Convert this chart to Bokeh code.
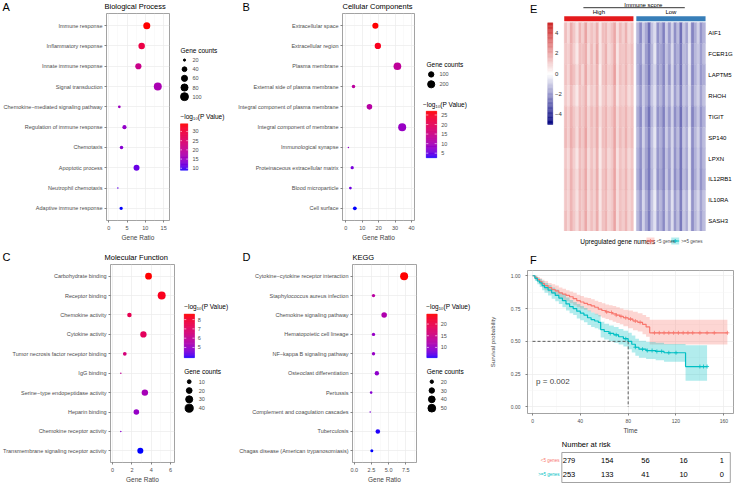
import numpy as np
from bokeh.plotting import figure
from bokeh.models import Range1d, FixedTicker, Label, NumeralTickFormatter
from bokeh.layouts import row, column
from bokeh.embed import file_html
from bokeh.resources import INLINE
from bokeh.core.properties import value

FONT = "Liberation Sans"
TICK_GREY = "#4D4D4D"
MINUS = "\u2212"

# ------------------------------------------------------------------ data
bp_terms = ["Immune response", "Inflammatory response", "Innate immune response",
            "Signal transduction", "Chemokine" + MINUS + "mediated signaling pathway",
            "Regulation of immune response", "Chemotaxis", "Apoptotic process",
            "Neutrophil chemotaxis", "Adaptive immune response"]
bp_ratio = [10.4, 9.0, 8.1, 13.4, 2.9, 4.3, 3.5, 7.6, 2.5, 3.4]
bp_count = [79, 68, 62, 102, 22, 33, 27, 58, 19, 26]
bp_logp = [34.2, 29.0, 21.5, 17.0, 15.5, 14.5, 13.5, 11.5, 11.0, 8.9]
bp_size_breaks = [20, 40, 60, 80, 100]
bp_color_breaks = [10, 15, 20, 25, 30]

cc_terms = ["Extracellular space", "Extracellular region", "Plasma membrane",
            "External side of plasma membrane", "Integral component of plasma membrane",
            "Integral component of membrane", "Immunological synapse",
            "Proteinaceous extracellular matrix", "Blood microparticle", "Cell surface"]
cc_ratio = [18.0, 19.5, 31.4, 4.7, 14.4, 34.3, 1.6, 3.9, 2.8, 5.5]
cc_count = [137, 148, 239, 36, 110, 261, 12, 30, 21, 42]
cc_logp = [27.0, 25.5, 13.0, 12.5, 12.0, 8.5, 8.0, 6.0, 5.5, 2.6]
cc_size_breaks = [100, 200]
cc_color_breaks = [5, 10, 15, 20, 25]

mf_terms = ["Carbohydrate binding", "Receptor binding", "Chemokine activity",
            "Cytokine activity", "Tumor necrosis factor receptor binding", "IgG binding",
            "Serine" + MINUS + "type endopeptidase activity", "Heparin binding",
            "Chemokine receptor activity", "Transmembrane signaling receptor activity"]
mf_ratio = [3.72, 5.08, 1.74, 3.19, 1.26, 0.85, 3.34, 2.46, 0.85, 2.87]
mf_count = [28, 39, 13, 24, 10, 6, 25, 19, 6, 22]
mf_logp = [8.6, 8.3, 7.4, 7.2, 6.6, 6.0, 5.3, 5.0, 4.8, 3.9]
mf_size_breaks = [10, 20, 30, 40]
mf_color_breaks = [5, 6, 7, 8]

kegg_terms = ["Cytokine" + MINUS + "cytokine receptor interaction", "Staphylococcus aureus infection",
              "Chemokine signaling pathway", "Hematopoietic cell lineage",
              "NF" + MINUS + "kappa B signaling pathway", "Osteoclast differentiation", "Pertussis",
              "Complement and coagulation cascades", "Tuberculosis",
              "Chagas disease (American trypanosomiasis)"]
kegg_ratio = [7.25, 2.8, 4.35, 2.8, 2.8, 3.29, 2.46, 2.32, 3.43, 2.56]
kegg_count = [53, 20, 31, 20, 20, 24, 18, 17, 25, 19]
kegg_logp = [24.3, 13.0, 12.0, 10.0, 10.0, 9.5, 9.0, 8.5, 5.8, 5.6]
kegg_size_breaks = [20, 30, 40, 50]
kegg_color_breaks = [10, 15, 20]

genes = ["AIF1", "FCER1G", "LAPTM5", "RHOH", "TIGIT", "SP140", "LPXN", "IL12RB1", "IL10RA", "SASH3"]
heat_high = [
    [1.5, 0.9, 1.9, 1.3, 0.7, 1.7, 1.1, 2.1, 1.0, 1.4, 1.1, 1.8, 0.6, 1.5, 1.6, 1.0, 1.4, 2.0, 0.8, 1.6, 1.1, 1.8, 0.9, 1.3],
    [1.3, 1.1, 1.7, 1.1, 0.5, 1.5, 1.4, 1.9, 0.8, 1.6, 1.0, 2.0, 0.6, 1.3, 1.8, 0.9, 1.2, 2.0, 0.6, 1.4, 1.3, 1.6, 1.1, 1.5],
    [1.4, 1.0, 1.8, 1.4, 0.8, 1.6, 1.0, 2.0, 1.0, 1.5, 1.1, 1.8, 0.4, 1.4, 1.7, 1.1, 1.3, 2.2, 0.7, 1.5, 1.2, 1.7, 1.0, 1.4],
    [1.2, 0.8, 1.6, 1.0, 0.5, 1.4, 1.2, 1.8, 0.7, 1.3, 1.0, 1.7, 0.5, 1.2, 1.5, 0.9, 1.1, 1.9, 0.6, 1.3, 1.1, 1.5, 0.8, 1.2],
    [1.5, 1.1, 1.8, 1.3, 0.9, 1.6, 1.3, 1.9, 1.0, 1.6, 1.2, 1.9, 0.8, 1.4, 1.7, 1.1, 1.4, 2.0, 0.9, 1.5, 1.3, 1.7, 1.1, 1.4],
    [1.6, 1.1, 1.9, 1.4, 0.8, 1.7, 1.3, 2.1, 1.0, 1.5, 1.2, 1.9, 0.6, 1.5, 1.7, 1.1, 1.3, 2.1, 0.9, 1.6, 1.2, 1.8, 1.1, 1.5],
    [1.3, 0.9, 1.7, 1.1, 0.6, 1.5, 1.2, 1.9, 0.8, 1.4, 1.0, 1.8, 0.5, 1.3, 1.6, 0.9, 1.2, 2.0, 0.7, 1.4, 1.1, 1.6, 0.9, 1.3],
    [1.4, 1.0, 1.8, 1.2, 0.8, 1.6, 1.3, 2.0, 0.9, 1.5, 1.1, 1.9, 0.6, 1.4, 1.7, 1.0, 1.3, 2.1, 0.8, 1.5, 1.2, 1.7, 1.0, 1.4],
    [1.3, 1.0, 1.7, 1.2, 0.7, 1.5, 1.3, 1.9, 0.9, 1.4, 1.1, 1.8, 0.6, 1.4, 1.6, 1.0, 1.2, 2.0, 0.8, 1.4, 1.2, 1.6, 1.0, 1.3],
    [1.5, 1.0, 1.8, 1.3, 0.8, 1.6, 1.2, 2.0, 1.0, 1.5, 1.1, 1.9, 0.7, 1.4, 1.7, 1.0, 1.3, 2.1, 0.8, 1.5, 1.2, 1.7, 1.0, 1.4],
]
heat_low = [
    [-1.4, -2.3, -1.1, -1.7, -2.8, -1.2, -0.7, -2.1, -1.5, -2.5, -1.0, -2.0, -0.9, -2.2, -1.3, -2.8, -1.1, -1.8, -0.6, -2.4, -1.6, -0.9, -2.1, -1.5],
    [-1.6, -2.0, -0.9, -1.9, -2.5, -1.4, -0.5, -1.9, -1.7, -2.3, -1.2, -1.8, -0.7, -2.0, -1.5, -2.6, -1.3, -1.6, -0.4, -2.2, -1.4, -1.1, -1.9, -1.3],
    [-1.5, -2.2, -1.2, -1.8, -2.6, -1.3, -0.8, -2.0, -1.6, -2.4, -1.1, -2.1, -0.8, -2.1, -1.4, -2.7, -1.2, -1.7, -0.5, -2.3, -1.5, -1.0, -2.0, -1.6],
    [-1.3, -2.0, -1.0, -1.6, -2.3, -1.1, -0.6, -1.8, -1.4, -2.2, -1.0, -1.7, -0.7, -1.9, -1.2, -2.5, -1.1, -1.5, -0.6, -2.1, -1.3, -0.9, -1.8, -1.2],
    [-1.6, -2.3, -1.0, -1.9, -2.7, -1.4, -0.7, -2.1, -1.7, -2.5, -1.2, -2.0, -0.9, -2.2, -1.5, -2.8, -1.3, -1.8, -0.6, -2.4, -1.6, -1.1, -2.1, -1.5],
    [-1.4, -2.1, -0.9, -1.7, -2.5, -1.2, -0.5, -1.9, -1.5, -2.3, -1.0, -1.8, -0.8, -2.0, -1.3, -2.6, -1.1, -1.6, -0.4, -2.2, -1.4, -0.9, -1.9, -1.3],
    [-1.5, -2.2, -1.1, -1.8, -2.6, -1.3, -0.7, -2.0, -1.6, -2.4, -1.2, -1.9, -0.8, -2.1, -1.4, -2.7, -1.2, -1.7, -0.5, -2.3, -1.5, -1.0, -2.0, -1.4],
    [-1.6, -2.3, -1.0, -1.9, -2.6, -1.4, -0.6, -2.1, -1.7, -2.4, -1.1, -2.0, -0.8, -2.2, -1.5, -2.7, -1.3, -1.8, -0.5, -2.3, -1.6, -1.0, -2.1, -1.5],
    [-1.3, -2.0, -0.8, -1.6, -2.4, -1.1, -0.4, -1.8, -1.4, -2.2, -0.9, -1.7, -0.6, -1.9, -1.2, -2.5, -1.0, -1.5, -0.3, -2.1, -1.3, -0.8, -1.8, -1.2],
    [-1.4, -2.1, -0.9, -1.7, -2.5, -1.2, -0.6, -1.9, -1.5, -2.3, -1.0, -1.8, -0.7, -2.0, -1.3, -2.6, -1.1, -1.6, -0.5, -2.2, -1.4, -0.9, -1.9, -1.3],
]
heat_ticks = [-4, -2, 0, 2, 4]
heat_limits = (-5, 5)

# survival (<5 genes, red) and (>=5 genes, teal)
t_lo = [0, 2, 4, 6, 8, 10, 13, 16, 19, 22, 25, 28, 31, 34, 37, 40, 43, 46, 49, 52, 55, 58, 61, 64,
        67, 70, 73, 76, 80, 84, 88, 92, 95, 98, 163]
s_lo = [1.0, 0.985, 0.97, 0.955, 0.94, 0.925, 0.91, 0.895, 0.885, 0.87, 0.86, 0.85, 0.84, 0.825,
        0.81, 0.80, 0.79, 0.78, 0.77, 0.76, 0.745, 0.735, 0.725, 0.72, 0.71, 0.70, 0.69, 0.68,
        0.67, 0.655, 0.645, 0.63, 0.61, 0.565, 0.565]
up_lo = [1.0, 1.0, 0.99, 0.98, 0.97, 0.96, 0.945, 0.935, 0.925, 0.91, 0.90, 0.89, 0.88, 0.87,
         0.855, 0.845, 0.835, 0.83, 0.82, 0.81, 0.80, 0.79, 0.78, 0.775, 0.77, 0.76, 0.75, 0.74,
         0.735, 0.725, 0.715, 0.70, 0.685, 0.665, 0.665]
lw_lo = [1.0, 0.97, 0.95, 0.93, 0.91, 0.89, 0.875, 0.86, 0.845, 0.83, 0.815, 0.805, 0.79, 0.775,
         0.76, 0.75, 0.74, 0.73, 0.72, 0.705, 0.69, 0.68, 0.67, 0.66, 0.65, 0.64, 0.63, 0.615,
         0.60, 0.585, 0.575, 0.555, 0.535, 0.475, 0.475]
t_hi = [0, 2, 4, 6, 8, 10, 13, 16, 19, 22, 25, 28, 31, 34, 37, 40, 43, 46, 49, 52, 55, 57, 60,
        64, 68, 72, 76, 80, 83, 86, 89, 95, 103, 110, 128, 146]
s_hi = [1.0, 0.98, 0.96, 0.945, 0.925, 0.91, 0.89, 0.87, 0.85, 0.83, 0.81, 0.785, 0.765, 0.75,
        0.73, 0.715, 0.70, 0.68, 0.665, 0.655, 0.645, 0.59, 0.575, 0.56, 0.55, 0.535, 0.52, 0.50,
        0.478, 0.455, 0.44, 0.43, 0.423, 0.413, 0.308, 0.308]
up_hi = [1.0, 1.0, 0.985, 0.975, 0.96, 0.945, 0.93, 0.91, 0.895, 0.875, 0.86, 0.835, 0.815, 0.80,
         0.785, 0.77, 0.755, 0.735, 0.72, 0.71, 0.70, 0.65, 0.635, 0.62, 0.61, 0.595, 0.58, 0.565,
         0.545, 0.52, 0.505, 0.495, 0.49, 0.48, 0.47, 0.47]
lw_hi = [1.0, 0.96, 0.935, 0.915, 0.89, 0.87, 0.85, 0.825, 0.805, 0.785, 0.76, 0.735, 0.715, 0.70,
         0.675, 0.66, 0.645, 0.625, 0.61, 0.60, 0.59, 0.53, 0.515, 0.50, 0.49, 0.475, 0.46, 0.44,
         0.415, 0.39, 0.375, 0.365, 0.355, 0.345, 0.20, 0.20]
cens_lo = [62, 66, 70, 74, 78, 82, 86, 90, 102, 106, 110, 114, 118, 122, 126, 130, 134, 140, 146, 152, 163]
cens_hi = [65, 70, 78, 86, 92, 96, 100, 104, 108, 114, 120, 140, 143, 146]
risk_times = [0, 40, 80, 120, 160]
risk_lo = [279, 154, 56, 16, 1]
risk_hi = [253, 133, 41, 10, 0]
p_text = "p = 0.002"
group_names = ["<5 genes", ">=5 genes"]
COL_LO, COL_HI = "#F8766D", "#00BFC4"

# ------------------------------------------------------------------ colour helpers
_M = np.array([[0.4124, 0.3576, 0.1805], [0.2126, 0.7152, 0.0722], [0.0193, 0.1192, 0.9505]])
_Minv = np.linalg.inv(_M)
_WHITE = _M @ np.ones(3)


def _lin(c):
    c = np.asarray(c, float) / 255.0
    return np.where(c <= 0.04045, c / 12.92, ((c + 0.055) / 1.055) ** 2.4)


def _gam(c):
    c = np.clip(c, 0, 1)
    return np.where(c <= 0.0031308, 12.92 * c, 1.055 * np.power(c, 1 / 2.4) - 0.055) * 255


def _f(t):
    d = 6 / 29
    return np.where(t > d ** 3, np.cbrt(t), t / (3 * d * d) + 4 / 29)


def _finv(t):
    d = 6 / 29
    return np.where(t > d, t ** 3, 3 * d * d * (t - 4 / 29))


def to_lab(rgb):
    xyz = (_M @ _lin(rgb)) / _WHITE
    fx, fy, fz = _f(xyz)
    return np.array([116 * fy - 16, 500 * (fx - fy), 200 * (fy - fz)])


def lab_hex(lab):
    L, a, b = lab
    fy = (L + 16) / 116
    xyz = _finv(np.array([fy + a / 500, fy, fy - b / 200])) * _WHITE
    rgb = _gam(_Minv @ xyz)
    return "#%02x%02x%02x" % tuple(int(round(v)) for v in rgb)


LAB_BLUE = to_lab([0, 0, 255])
LAB_RED = to_lab([255, 0, 0])


def dot_color(v, lo, hi):
    t = min(max((v - lo) / (hi - lo), 0), 1)
    return lab_hex(LAB_BLUE + (LAB_RED - LAB_BLUE) * t)


NAVY = np.array([0, 0, 128.0])
WHITE = np.array([255, 255, 255.0])
FIRE = np.array([205, 38, 38.0])


def heat_color(v):
    t = (v - heat_limits[0]) / (heat_limits[1] - heat_limits[0])
    t = min(max(t, 0), 1)
    if t < 0.5:
        c = NAVY + (WHITE - NAVY) * (t / 0.5)
    else:
        c = WHITE + (FIRE - WHITE) * ((t - 0.5) / 0.5)
    return "#%02x%02x%02x" % tuple(int(round(x)) for x in c)


DMIN, DMAX = 1.5, 8.0


def dot_size(v, vmin, vmax):
    r = max((v - vmin) / (vmax - vmin), 0)
    return DMIN + (DMAX - DMIN) * np.sqrt(r)


# ------------------------------------------------------------------ helpers
def put_text(p, xs, ys, texts, size, color="black", align="left", baseline="middle"):
    p.text(x=xs, y=ys, text=texts, text_font=value(FONT), text_font_size=size,
           text_color=color, text_align=align, text_baseline=baseline)


def blank_fig(w, h, xr, yr):
    q = figure(width=w, height=h, x_range=Range1d(*xr), y_range=Range1d(*yr), min_border=0,
               min_border_left=0, min_border_right=0, min_border_top=0, min_border_bottom=0,
               x_axis_type=None, y_axis_type=None, output_backend="svg", toolbar_location=None)
    q.outline_line_color = None
    return q


def style_axes(p, tick_size="5.5px"):
    for ax in p.axis:
        ax.major_label_text_font = FONT
        ax.major_label_text_font_size = tick_size
        ax.major_label_text_color = TICK_GREY
        ax.axis_line_color = None
        ax.major_tick_line_color = "#333333"
        ax.major_tick_line_width = 0.6
        ax.major_tick_out = 2
        ax.major_tick_in = 0
        ax.minor_tick_line_color = None
        ax.major_label_standoff = 1
        ax.axis_label_text_font = FONT
        ax.axis_label_text_font_style = "normal"
        ax.axis_label_text_font_size = "6.5px"
        ax.axis_label_standoff = 1
    p.outline_line_color = "#8C8C8C"
    p.outline_line_width = 0.8
    p.xgrid.grid_line_color = "#EBEBEB"
    p.xgrid.grid_line_width = 0.7
    p.xgrid.minor_grid_line_color = "#F4F4F4"
    p.xgrid.minor_grid_line_width = 0.5
    p.ygrid.grid_line_color = "#EBEBEB"
    p.ygrid.grid_line_width = 0.7


def dot_panel(terms, ratio, counts, logp, xr, xticks, xminor, xlabels, fig_w, fig_h,
              frame_left, frame_w, hdr, frame_h):
    """Plot figure placed under a header strip of height hdr (panel-local px)."""
    n = len(terms)
    ys = [n - i for i in range(n)]
    lo, hi = min(logp), max(logp)
    colors = [dot_color(v, lo, hi) for v in logp]
    sizes = [dot_size(c, min(counts), max(counts)) for c in counts]
    h = fig_h - hdr
    p = figure(width=fig_w, height=h, x_range=Range1d(*xr), y_range=Range1d(0.4, n + 0.6),
               min_border_left=frame_left, min_border_right=fig_w - frame_left - frame_w,
               min_border_top=1, min_border_bottom=h - 1 - frame_h,
               output_backend="svg", toolbar_location=None)
    style_axes(p)
    p.xaxis.ticker = FixedTicker(ticks=xticks, minor_ticks=xminor)
    if xlabels is not None:
        p.xaxis.major_label_overrides = {t: l for t, l in zip(xticks, xlabels)}
    p.xaxis.axis_label = "Gene Ratio"
    p.yaxis.ticker = FixedTicker(ticks=ys)
    p.yaxis.major_label_overrides = {y: t for y, t in zip(ys, terms)}
    p.yaxis.major_label_standoff = 2
    p.scatter(x=ratio, y=ys, size=sizes, fill_color=colors, line_color=None)
    return p


def header(w, hdr, letter, letter_xy, title, title_x, title_y):
    q = blank_fig(w, hdr, (0, w), (hdr, 0))
    put_text(q, [letter_xy[0]], [letter_xy[1]], [letter], "11px")
    put_text(q, [title_x], [title_y], [title], "7.5px")
    return q


def dot_legend(w, h, hdr, counts, size_breaks, logp, color_breaks, sp):
    q = blank_fig(w, h - hdr, (0, w), (h, hdr))
    vmin, vmax = min(counts), max(counts)
    lo, hi = min(logp), max(logp)
    ys = [sp["size_y0"] + k * sp["size_dy"] for k in range(len(size_breaks))]
    put_text(q, [sp["size_title"][0]], [sp["size_title"][1]], ["Gene counts"], "6.5px")
    q.scatter(x=[sp["dot_x"]] * len(ys), y=ys, size=[dot_size(b, vmin, vmax) for b in size_breaks],
              color="black")
    put_text(q, [sp["size_lab_x"]] * len(ys), ys, [str(b) for b in size_breaks], "5.5px", TICK_GREY)
    put_text(q, [sp["color_title"][0]], [sp["color_title"][1]],
             [MINUS + "log\u2081\u2080(P Value)"], "6.5px")
    bx0, bx1, by0, by1 = sp["bar"]
    nseg = 60
    edges = np.linspace(by1, by0, nseg + 1)
    vals = lo + (np.arange(nseg) + 0.5) / nseg * (hi - lo)
    cols = [dot_color(v, lo, hi) for v in vals]
    q.quad(left=bx0, right=bx1, bottom=edges[:-1], top=edges[1:], fill_color=cols,
           line_color=cols, line_width=0.4)
    ty = [by1 - (tv - lo) / (hi - lo) * (by1 - by0) for tv in color_breaks]
    tw = (bx1 - bx0) * 0.2
    q.segment(x0=[bx0] * len(ty), x1=[bx0 + tw] * len(ty), y0=ty, y1=ty, line_color="white", line_width=0.6)
    q.segment(x0=[bx1 - tw] * len(ty), x1=[bx1] * len(ty), y0=ty, y1=ty, line_color="white", line_width=0.6)
    put_text(q, [sp["bar_lab_x"]] * len(ty), ty, [str(b) for b in color_breaks], "5.5px", TICK_GREY)
    return q


# ------------------------------------------------------------------ A / B / C / D
HA = 12   # header height, top row
HC = 20   # header height, bottom row
pA = dot_panel(bp_terms, bp_ratio, bp_count, bp_logp, (-0.6, 16.6), [0, 5, 10, 15], [2.5, 7.5, 12.5],
               None, 178, 243, 104, 65, HA, 210)
hA = header(232, HA, "A", (2, 6.2), "Biological Process", 104, 5.6)
lA = dot_legend(54, 243, HA, bp_count, bp_size_breaks, bp_logp, bp_color_breaks,
                dict(size_title=(2, 53), size_y0=64, size_dy=10.2, dot_x=6, size_lab_x=14,
                     color_title=(2, 127), bar=(2, 9.3, 135, 187), bar_lab_x=14))

pB = dot_panel(cc_terms, cc_ratio, cc_count, cc_logp, (-2.0, 41.8), [0, 10, 20, 30, 40], [5, 15, 25, 35],
               None, 190, 243, 110, 72, HA, 210)
hB = header(248, HA, "B", (10, 6.2), "Cellular Components", 110, 5.6)
lB = dot_legend(58, 243, HA, cc_count, cc_size_breaks, cc_logp, cc_color_breaks,
                dict(size_title=(4, 69), size_y0=80, size_dy=11, dot_x=8.7, size_lab_x=17,
                     color_title=(0.5, 113), bar=(3.7, 14.3, 121, 173), bar_lab_x=18.7))

pC = dot_panel(mf_terms, mf_ratio, mf_count, mf_logp, (-0.22, 6.41), [0, 2, 4, 6], [1, 3, 5],
               None, 178, 242, 104, 70, HC, 203)
hC = header(232, HC, "C", (2, 13.5), "Molecular Function", 104, 14.2)
lC = dot_legend(54, 242, HC, mf_count, mf_size_breaks, mf_logp, mf_color_breaks,
                dict(size_title=(5.7, 140.5), size_y0=151.4, size_dy=9.9, dot_x=10.7, size_lab_x=20.3,
                     color_title=(5.7, 67), bar=(5.7, 16, 75.5, 124.5), bar_lab_x=19.3))

pD = dot_panel(kegg_terms, kegg_ratio, kegg_count, kegg_logp, (-0.25, 9.05), [0, 2.5, 5, 7.5],
               [1.25, 3.75, 6.25, 8.75], ["0.0", "2.5", "5.0", "7.5"], 190, 242, 120, 64, HC, 203)
hD = header(248, HC, "D", (10, 13.5), "KEGG", 120, 14.2)
lD = dot_legend(58, 242, HC, kegg_count, kegg_size_breaks, kegg_logp, kegg_color_breaks,
                dict(size_title=(4.3, 140.5), size_y0=151.4, size_dy=9.9, dot_x=9.3, size_lab_x=18.3,
                     color_title=(3.7, 67), bar=(4.3, 14.7, 75.5, 124.5), bar_lab_x=18.3))

# ------------------------------------------------------------------ E heatmap
E_W, E_H = 258, 231
HM_L, HM_R, HM_T, HM_B = 46.0, 223.0, 22.0, 231.3
n_hi, n_lo = len(heat_high[0]), len(heat_low[0])
GAP = 1.0
units = n_hi + GAP + n_lo
ppx = (HM_R - HM_L) / units
rowh = (HM_B - HM_T) / len(genes)


def ex(px):
    return (px - HM_L) / ppx


def ey(py):
    return (HM_B - py) / rowh


pE = blank_fig(E_W, E_H, (ex(0), ex(E_W)), (ey(E_H), ey(0)))
cx, cy, cc = [], [], []
for gi in range(len(genes)):
    yv = len(genes) - gi - 0.5
    for j, v in enumerate(heat_high[gi]):
        cx.append(j + 0.5); cy.append(yv); cc.append(heat_color(v))
    for j, v in enumerate(heat_low[gi]):
        cx.append(n_hi + GAP + j + 0.5); cy.append(yv); cc.append(heat_color(v))
pE.rect(x=cx, y=cy, width=1, height=1, fill_color=cc, line_color=cc, line_width=0.3)
# annotation bar
pE.quad(left=[0, n_hi + GAP], right=[n_hi, units], top=[ey(15.7)] * 2, bottom=[ey(20.7)] * 2,
        fill_color=["#E41A1C", "#377EB8"], line_color=None)
put_text(pE, [n_hi / 2, n_hi + GAP + n_lo / 2], [ey(11.8)] * 2, ["High", "Low"], "6px", align="center")
pE.segment(x0=[ex(70)], x1=[ex(197)], y0=[ey(7.2)], y1=[ey(7.2)], line_color="black", line_width=0.8)
put_text(pE, [ex(145)], [ey(4.0)], ["Immune score"], "6px", align="center")
# colour key
cb_x0, cb_x1, cb_t, cb_b = 25.3, 31.7, 22.3, 124.0
nseg = 80
edges = np.linspace(cb_b, cb_t, nseg + 1)
vals = heat_limits[0] + (np.arange(nseg) + 0.5) / nseg * (heat_limits[1] - heat_limits[0])
hc = [heat_color(v) for v in vals]
pE.quad(left=ex(cb_x0), right=ex(cb_x1), bottom=[ey(e) for e in edges[:-1]], top=[ey(e) for e in edges[1:]],
        fill_color=hc, line_color=hc, line_width=0.4)
tpy = [cb_b - (t - heat_limits[0]) / (heat_limits[1] - heat_limits[0]) * (cb_b - cb_t) for t in heat_ticks]
put_text(pE, [ex(34.3)] * len(tpy), [ey(v) for v in tpy],
         [(MINUS + str(-t)) if t < 0 else str(t) for t in heat_ticks], "6px", "#333333")
put_text(pE, [ex(226.5)] * len(genes), [len(genes) - i - 0.5 for i in range(len(genes))], genes, "6px")
put_text(pE, [ex(3)], [ey(8.0)], ["E"], "11px")

# ------------------------------------------------------------------ legend strip
L_W, L_H = 258, 15
pL = blank_fig(L_W, L_H, (0, L_W), (L_H, 0))
put_text(pL, [66], [9.5], ["Upregulated gene numers"], "6.5px")
pL.quad(left=[149, 180], right=[159, 190], top=[6, 6], bottom=[13, 13],
        fill_color=[COL_LO, COL_HI], fill_alpha=0.3, line_color=None)
pL.segment(x0=[149, 180], x1=[159, 190], y0=[9.5, 9.5], y1=[9.5, 9.5], line_color=[COL_LO, COL_HI], line_width=1)
pL.scatter(x=[154, 185], y=[9.5, 9.5], marker="cross", size=4, line_color=[COL_LO, COL_HI], line_width=0.8)
put_text(pL, [161.5, 192.5], [9.5, 9.5], group_names, "4.5px", TICK_GREY)

# ------------------------------------------------------------------ F survival
F_W, F_L, F_R, F_FH = 258, 47, 5, 147
F_HDR = 23
F_H = 167
FX0, FX1 = -4.2, 168.1
hF = blank_fig(F_W, F_HDR, (0, F_W), (F_HDR, 0))
put_text(hF, [3], [13.4], ["F"], "11px")
pF = figure(width=F_W, height=F_H, x_range=Range1d(FX0, FX1), y_range=Range1d(-0.05, 1.04),
            min_border_left=F_L, min_border_right=F_R, min_border_top=1,
            min_border_bottom=F_H - 1 - F_FH, output_backend="svg", toolbar_location=None)
style_axes(pF, "5px")
pF.ygrid.minor_grid_line_color = "#F4F4F4"
pF.ygrid.minor_grid_line_width = 0.5
pF.xaxis.ticker = FixedTicker(ticks=[0, 40, 80, 120, 160], minor_ticks=[20, 60, 100, 140])
pF.yaxis.ticker = FixedTicker(ticks=[0, 0.25, 0.5, 0.75, 1.0], minor_ticks=[0.125, 0.375, 0.625, 0.875])
pF.yaxis.formatter = NumeralTickFormatter(format="0.00")
pF.xaxis.axis_label = "Time"
pF.yaxis.axis_label = "Survival probability"
pF.yaxis.axis_label_text_font_size = "6px"
pF.yaxis.major_label_standoff = 3
pF.yaxis.axis_label_standoff = 12


def steps(t, s):
    xs, ys = [], []
    for i in range(len(t)):
        if i > 0:
            xs.append(t[i]); ys.append(s[i - 1])
        xs.append(t[i]); ys.append(s[i])
    return xs, ys


def surv_at(t, s, tc):
    k = max(i for i in range(len(t)) if t[i] <= tc)
    return s[k]


groups = [(t_lo, s_lo, up_lo, lw_lo, cens_lo, COL_LO), (t_hi, s_hi, up_hi, lw_hi, cens_hi, COL_HI)]
for tt, ss, uu, ll, cens, col in groups:
    bx, bu = steps(tt, uu)
    _, bl = steps(tt, ll)
    pF.varea(x=bx, y1=bl, y2=bu, fill_color=col, fill_alpha=0.3)
for tt, ss, uu, ll, cens, col in groups:
    sx, sy = steps(tt, ss)
    pF.line(sx, sy, line_color=col, line_width=1.2)
    pF.scatter(x=cens, y=[surv_at(tt, ss, c) for c in cens], marker="cross", size=4,
               line_color=col, line_width=0.8)
t_med = min(t for t, s in zip(t_hi, s_hi) if s <= 0.5)
pF.line([0, t_med], [0.5, 0.5], line_color="#333333", line_dash="3 2", line_width=0.8)
pF.line([t_med, t_med], [0.5, 0], line_color="#333333", line_dash="3 2", line_width=0.8)
pF.add_layout(Label(x=3, y=0.195, text=p_text, text_font=FONT, text_font_size="8px",
                    text_baseline="middle"))

# ------------------------------------------------------------------ risk table (one blank frame)
R_W, R_H, R_L, R_R, R_T, R_FH = 258, 49, 43, 4, 16, 30
ppm = (F_W - F_L - F_R) / (FX1 - FX0)          # px per month (same as F)
RX0 = FX0 - (F_L - R_L) / ppm                   # data x at table box left
RX1 = FX1 + (F_R - R_R) / ppm                   # data x at table box right
RY0, RY1 = 0.47, 2.53
ppy = R_FH / (RY1 - RY0)


def rx(px):
    return RX0 + (px - R_L) / ppm


def ry(py):
    return RY1 - (py - R_T) / ppy


pR = blank_fig(R_W, R_H, (rx(0), rx(R_W)), (ry(R_H), ry(0)))
pR.quad(left=[RX0], right=[RX1], bottom=[RY0], top=[RY1], fill_color=None,
        line_color="#8C8C8C", line_width=0.8)
put_text(pR, risk_times, [2] * len(risk_times), [str(v) for v in risk_lo], "7.5px", align="center")
put_text(pR, risk_times, [1] * len(risk_times), [str(v) for v in risk_hi], "7.5px", align="center")
put_text(pR, [rx(R_L - 3)] * 2, [2, 1], group_names, "4.5px", [COL_LO, COL_HI], align="right")
put_text(pR, [rx(R_L)], [ry(7.7)], ["Number at risk"], "7.5px")

# ------------------------------------------------------------------ layout
col1 = column(hA, row(pA, lA), hC, row(pC, lC))
col2 = column(hB, row(pB, lB), hD, row(pD, lD))
col3 = column(pE, pL, hF, pF, pR)
layout = row(col1, col2, col3)

open("out.html", "w").write(file_html(layout, INLINE))
